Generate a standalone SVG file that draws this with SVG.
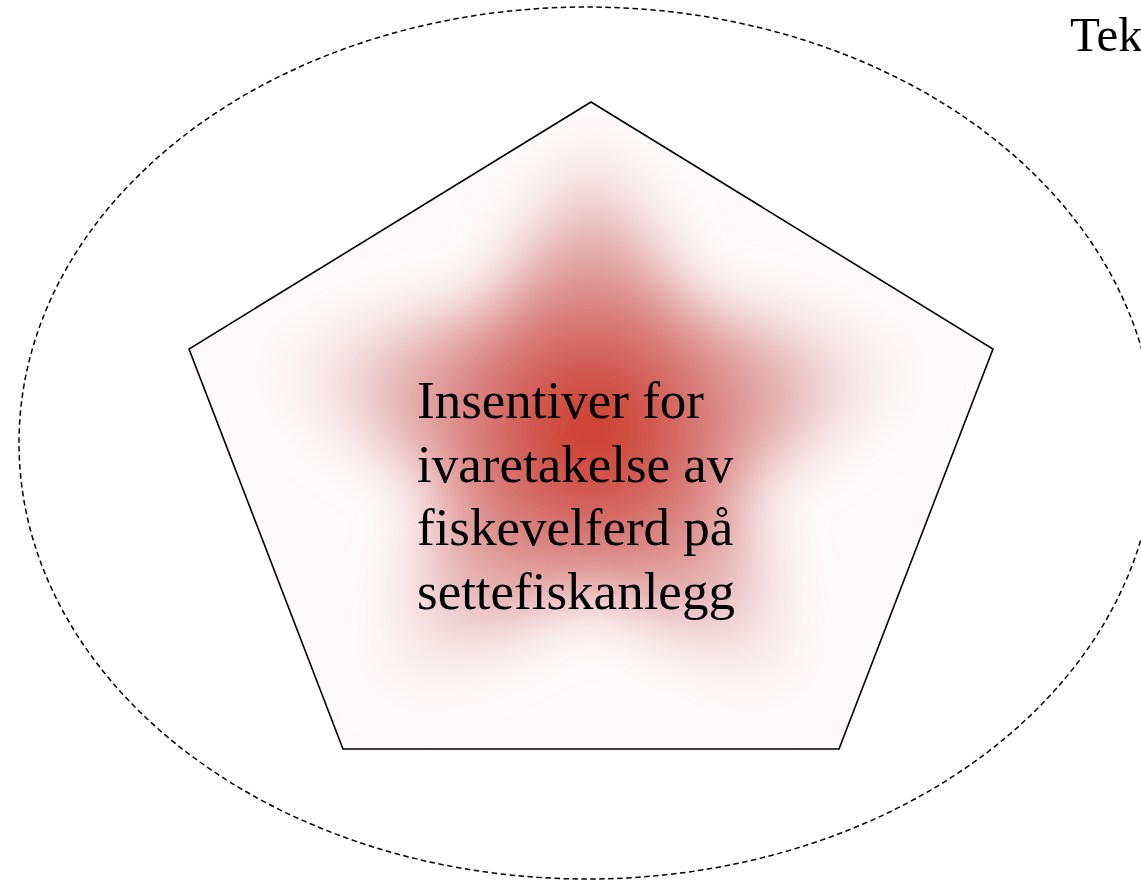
<svg xmlns="http://www.w3.org/2000/svg" width="1141" height="881" viewBox="0 0 1141 881">
<style>
.lbl{font-family:"Liberation Serif","Times New Roman",serif;fill:#000}
.outline{fill:none;stroke:#000;stroke-width:1.6}
.dashed{fill:none;stroke:#000;stroke-width:1.5;stroke-dasharray:5.5 3.5}
</style>
<defs>
<clipPath id="pclip"><polygon points="591,102 993,349 839,749 343,749 189,349"/></clipPath>
<radialGradient id="rg" cx="591" cy="430" r="340" gradientUnits="userSpaceOnUse">
<stop offset="0" stop-color="#cc2a10" stop-opacity="1"/>
<stop offset="0.25" stop-color="#d05a55" stop-opacity="0.95"/>
<stop offset="0.6" stop-color="#dc9a9a" stop-opacity="0.7"/>
<stop offset="1" stop-color="#f4dede" stop-opacity="0"/>
</radialGradient>
<filter id="blur" x="-50%" y="-50%" width="200%" height="200%"><feGaussianBlur stdDeviation="32"/></filter>
</defs>
<rect width="1141" height="881" fill="#fff"/>
<g id="boundary">
<ellipse class="dashed" cx="587" cy="443" rx="568" ry="436"/>
</g>
<g id="label-tek">
<text class="lbl" x="1070" y="51" font-size="49">Tek</text>
</g>
<g id="node-center">
<polygon points="591,102 993,349 839,749 343,749 189,349" fill="#fefafb"/>
<g clip-path="url(#pclip)">
<polygon filter="url(#blur)" fill="url(#rg)" points="591,135 690,310 950,358 736,484 812,712 591,585 370,712 446,484 232,358 492,310"/>
</g>
<polygon class="outline" points="591,102 993,349 839,749 343,749 189,349"/>
<text class="lbl" font-size="53">
<tspan x="417" y="418">Insentiver for</tspan>
<tspan x="417" y="482">ivaretakelse av</tspan>
<tspan x="417" y="545">fiskevelferd på</tspan>
<tspan x="417" y="609">settefiskanlegg</tspan>
</text>
</g>
<g id="connectors"/>
</svg>
